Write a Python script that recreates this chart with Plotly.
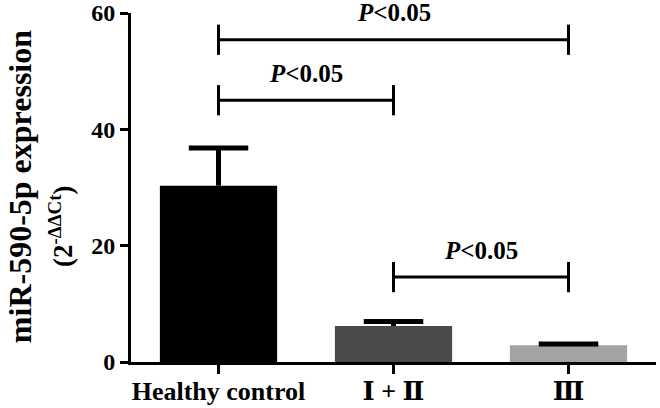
import plotly.graph_objects as go

categories = ["Healthy control", "Ⅰ + Ⅱ", "Ⅲ"]
means = [30.3, 6.2, 2.9]
errors = [6.5, 0.75, 0.2]
bar_colors = ["#000000", "#4a4a4a", "#a3a3a3"]
y_ticks = [0, 20, 40, 60]

# significance comparisons: (group a, group b, bracket level, label)
comp_a = [0, 0, 1]
comp_b = [2, 1, 2]
comp_level = [55.4, 45.0, 14.6]
comp_label = ["<i>P</i><0.05", "<i>P</i><0.05", "<i>P</i><0.05"]

FONT = "Liberation Serif, Times New Roman, DejaVu Serif, serif"
xpos = list(range(len(categories)))

fig = go.Figure()
fig.add_trace(go.Bar(
    x=xpos, y=means, width=0.67,
    marker=dict(color=bar_colors, line=dict(width=0)),
    showlegend=False, hoverinfo="skip",
))

# error bars (upper only)
cap_half = 0.17
ex, ey = [], []
for x, m, e in zip(xpos, means, errors):
    ex += [x, x, None, x - cap_half, x + cap_half, None]
    ey += [m, m + e, None, m + e, m + e, None]
fig.add_trace(go.Scatter(x=ex, y=ey, mode="lines",
                         line=dict(color="black", width=5),
                         showlegend=False, hoverinfo="skip", cliponaxis=False))

# significance brackets
end_half = 2.6
bx, by = [], []
for a, b, lv in zip(comp_a, comp_b, comp_level):
    bx += [a, a, None, a, b, None, b, b, None]
    by += [lv - end_half, lv + end_half, None, lv, lv, None, lv - end_half, lv + end_half, None]
fig.add_trace(go.Scatter(x=bx, y=by, mode="lines",
                         line=dict(color="black", width=3),
                         showlegend=False, hoverinfo="skip", cliponaxis=False))

annotations = []
for a, b, lv, lab in zip(comp_a, comp_b, comp_level, comp_label):
    annotations.append(dict(
        x=(a + b) / 2, y=lv, xref="x", yref="y", text="<b>" + lab + "</b>",
        showarrow=False, yshift=27, xanchor="center", yanchor="middle",
        font=dict(family=FONT, size=25, color="black"),
    ))

# y-axis title, two lines
annotations.append(dict(
    x=(20 - 131) / 525, y=0.501, xref="paper", yref="paper",
    text="<b>miR-590-5p expression</b>", textangle=-90, showarrow=False,
    xanchor="center", yanchor="middle",
    font=dict(family=FONT, size=32, color="black"),
))
annotations.append(dict(
    x=(61 - 131) / 525, y=0.387, xref="paper", yref="paper",
    text="<b>(2<sup>-ΔΔCt</sup>)</b>", textangle=-90, showarrow=False,
    xanchor="center", yanchor="middle",
    font=dict(family=FONT, size=27, color="black"),
))

fig.update_layout(
    template="none",
    width=660, height=408,
    margin=dict(l=131, r=4, t=13, b=46),
    plot_bgcolor="white", paper_bgcolor="white",
    bargap=0.33,
    annotations=annotations,
    xaxis=dict(
        range=[-0.5, 2.5], tickvals=xpos,
        ticktext=["<b>" + c + "</b>" for c in categories],
        showline=True, linewidth=3, linecolor="black",
        ticks="outside", ticklen=9, tickwidth=3, tickcolor="black",
        ticklabelstandoff=-5,
        showgrid=False, zeroline=False, automargin=False,
        tickfont=dict(family=FONT, size=26, color="black"),
    ),
    yaxis=dict(
        range=[0, 60], tickvals=y_ticks,
        ticktext=["<b>%d</b>" % t for t in y_ticks],
        showline=True, linewidth=3, linecolor="black",
        ticks="outside", ticklen=8, tickwidth=3, tickcolor="black",
        showgrid=False, zeroline=False, automargin=False,
        tickfont=dict(family=FONT, size=24, color="black"),
    ),
)

fig.write_html("out.html", config={"displayModeBar": False},
               post_script="document.body.style.margin='0';")
